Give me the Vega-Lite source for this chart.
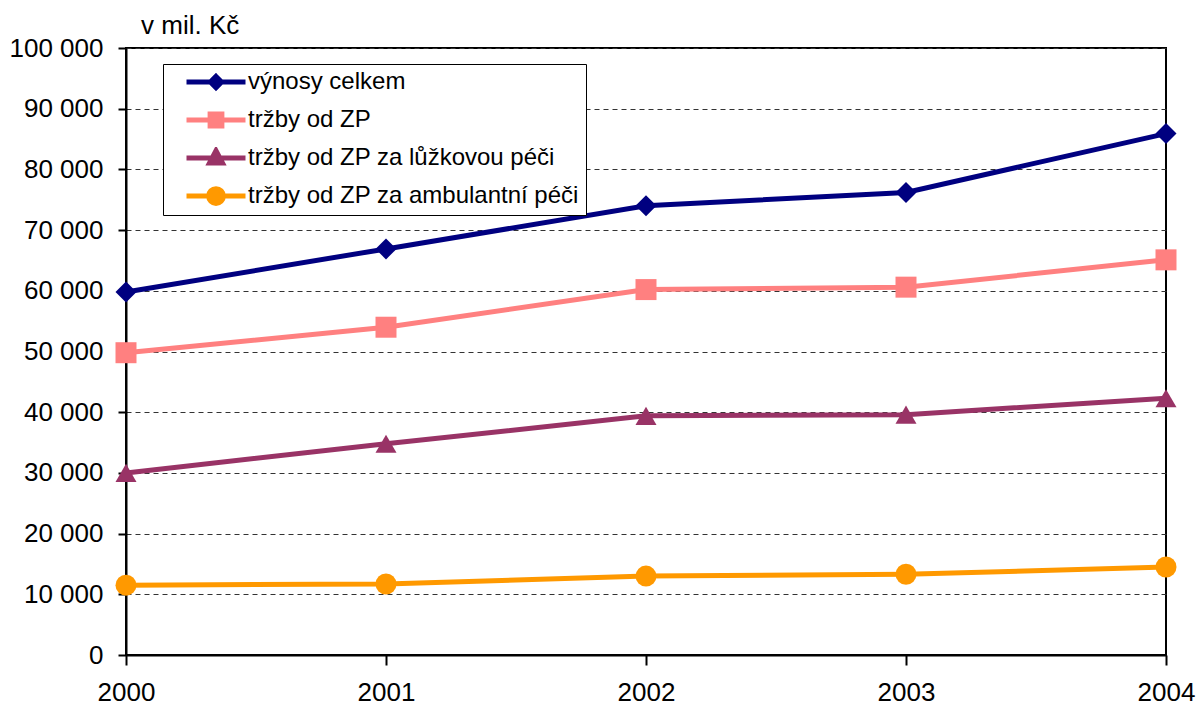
{
  "$schema": "https://vega.github.io/schema/vega-lite/v6.json",
  "width": 1040,
  "height": 607,
  "autosize": "none",
  "padding": {"left": 126, "top": 48, "right": 32, "bottom": 49},
  "background": "white",
  "config": {
    "font": "Liberation Sans",
    "view": {"stroke": "black", "strokeWidth": 2},
    "axis": {
      "labelFont": "Liberation Sans",
      "labelFontSize": 26,
      "labelColor": "black",
      "domainColor": "black",
      "domainWidth": 2,
      "tickColor": "black",
      "tickWidth": 2
    },
    "legend": {
      "title": null,
      "orient": "none",
      "legendX": 37,
      "legendY": 16,
      "strokeColor": "black",
      "fillColor": "white",
      "padding": 7,
      "symbolOffset": 14,
      "symbolSize": 3481,
      "symbolStrokeWidth": 5,
      "symbolOpacity": 1,
      "clipHeight": 22,
      "rowPadding": 14,
      "labelOffset": 0,
      "labelFontSize": 24,
      "labelFont": "Liberation Sans",
      "labelColor": "black",
      "labelLimit": 0
    }
  },
  "title": {
    "text": "v mil. Kč",
    "anchor": "start",
    "frame": "group",
    "dx": 15,
    "dy": 16,
    "offset": 12,
    "fontSize": 26,
    "fontWeight": "normal",
    "color": "black",
    "font": "Liberation Sans"
  },
  "data": {
    "values": [
      {"rok": 2000, "ukazatel": "výnosy celkem", "hodnota": 59800},
      {"rok": 2001, "ukazatel": "výnosy celkem", "hodnota": 66900},
      {"rok": 2002, "ukazatel": "výnosy celkem", "hodnota": 74000},
      {"rok": 2003, "ukazatel": "výnosy celkem", "hodnota": 76200},
      {"rok": 2004, "ukazatel": "výnosy celkem", "hodnota": 85900},
      {"rok": 2000, "ukazatel": "tržby od ZP", "hodnota": 49800},
      {"rok": 2001, "ukazatel": "tržby od ZP", "hodnota": 54000},
      {"rok": 2002, "ukazatel": "tržby od ZP", "hodnota": 60200},
      {"rok": 2003, "ukazatel": "tržby od ZP", "hodnota": 60600},
      {"rok": 2004, "ukazatel": "tržby od ZP", "hodnota": 65100},
      {"rok": 2000, "ukazatel": "tržby od ZP za lůžkovou péči", "hodnota": 30000},
      {"rok": 2001, "ukazatel": "tržby od ZP za lůžkovou péči", "hodnota": 34800},
      {"rok": 2002, "ukazatel": "tržby od ZP za lůžkovou péči", "hodnota": 39400},
      {"rok": 2003, "ukazatel": "tržby od ZP za lůžkovou péči", "hodnota": 39600},
      {"rok": 2004, "ukazatel": "tržby od ZP za lůžkovou péči", "hodnota": 42300},
      {"rok": 2000, "ukazatel": "tržby od ZP za ambulantní péči", "hodnota": 11500},
      {"rok": 2001, "ukazatel": "tržby od ZP za ambulantní péči", "hodnota": 11700},
      {"rok": 2002, "ukazatel": "tržby od ZP za ambulantní péči", "hodnota": 13000},
      {"rok": 2003, "ukazatel": "tržby od ZP za ambulantní péči", "hodnota": 13300},
      {"rok": 2004, "ukazatel": "tržby od ZP za ambulantní péči", "hodnota": 14500}
    ]
  },
  "encoding": {
    "x": {
      "field": "rok",
      "type": "quantitative",
      "scale": {"domain": [2000, 2004], "nice": false, "zero": false},
      "axis": {
        "values": [2000, 2001, 2002, 2003, 2004],
        "format": "d",
        "title": null,
        "grid": false,
        "tickSize": 10,
        "labelPadding": 14,
        "labelFlush": false
      }
    },
    "y": {
      "field": "hodnota",
      "type": "quantitative",
      "scale": {"domain": [0, 100000], "nice": false},
      "axis": {
        "values": [0, 10000, 20000, 30000, 40000, 50000, 60000, 70000, 80000, 90000, 100000],
        "labelExpr": "datum.value == 0 ? '0' : format(datum.value / 1000, 'd') + ' 000'",
        "title": null,
        "grid": true,
        "gridDash": [5, 4],
        "gridColor": "#333",
        "gridWidth": 1,
        "tickSize": 8,
        "labelPadding": 15
      }
    }
  },
  "resolve": {"scale": {"shape": "independent", "fill": "independent", "stroke": "independent"}},
  "layer": [
    {
      "mark": {"type": "line", "strokeWidth": 5},
      "encoding": {
        "color": {
          "field": "ukazatel",
          "type": "nominal",
          "scale": {
            "domain": ["výnosy celkem", "tržby od ZP", "tržby od ZP za lůžkovou péči", "tržby od ZP za ambulantní péči"],
            "range": ["#000080", "#FF8080", "#993366", "#FF9900"]
          },
          "legend": null
        }
      }
    },
    {
      "mark": {"type": "point", "filled": true, "size": 441, "opacity": 1},
      "encoding": {
        "color": {"field": "ukazatel", "type": "nominal", "legend": null},
        "shape": {
          "field": "ukazatel",
          "type": "nominal",
          "scale": {
            "domain": ["výnosy celkem", "tržby od ZP", "tržby od ZP za lůžkovou péči", "tržby od ZP za ambulantní péči"],
            "range": ["diamond", "square", "triangle-up", "circle"]
          },
          "legend": null
        }
      }
    },
    {
      "mark": {"type": "point", "filled": true, "size": 400, "opacity": 0, "strokeWidth": 5},
      "encoding": {
        "fill": {
          "field": "ukazatel",
          "type": "nominal",
          "scale": {
            "domain": ["výnosy celkem", "tržby od ZP", "tržby od ZP za lůžkovou péči", "tržby od ZP za ambulantní péči"],
            "range": ["#000080", "#FF8080", "#993366", "#FF9900"]
          }
        },
        "stroke": {
          "field": "ukazatel",
          "type": "nominal",
          "scale": {
            "domain": ["výnosy celkem", "tržby od ZP", "tržby od ZP za lůžkovou péči", "tržby od ZP za ambulantní péči"],
            "range": ["#000080", "#FF8080", "#993366", "#FF9900"]
          }
        },
        "shape": {
          "field": "ukazatel",
          "type": "nominal",
          "scale": {
            "domain": ["výnosy celkem", "tržby od ZP", "tržby od ZP za lůžkovou péči", "tržby od ZP za ambulantní péči"],
            "range": [
              "M-1,0L1,0M0,-0.19L0.19,0L0,0.19L-0.19,0Z",
              "M-1,0L1,0M-0.2,-0.2L0.2,-0.2L0.2,0.2L-0.2,0.2Z",
              "M-1,0L1,0M0,-0.25L0.22,0.17L-0.22,0.17Z",
              "M-1,0L1,0M0.25,0A0.25,0.25,0,1,1,-0.25,0A0.25,0.25,0,1,1,0.25,0Z"
            ]
          }
        }
      }
    }
  ]
}
